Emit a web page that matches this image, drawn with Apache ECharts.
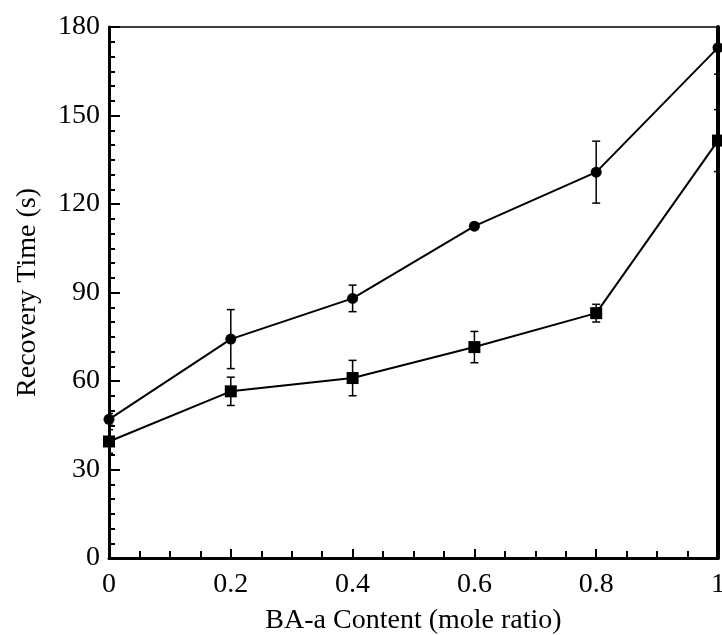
<!DOCTYPE html>
<html>
<head>
<meta charset="utf-8">
<script src="https://cdn.jsdelivr.net/npm/echarts@6/dist/echarts.min.js"></script>
<style>
  html, body { margin: 0; padding: 0; background: #fff; }
  #main { width: 722px; height: 635px; }
</style>
</head>
<body>
<div id="main"></div>
<script>
// BA-a content (mole ratio)
const xValues = [0, 0.2, 0.4, 0.6, 0.8, 1.0]
// circles (upper curve)
const circleY = [47, 74.2, 88, 112.5, 130.8, 173]
const circleErr = [2, 10, 4.5, 1, 10.5, 9]
// squares (lower curve)
const squareY = [39.5, 56.5, 61, 71.5, 83, 141.5]
const squareErr = [4, 4.8, 6, 5.3, 3, 10.5]

const font = 'Liberation Serif'

const pairs = (ys) => xValues.map((x, i) => [x, ys[i]])
const errData = (ys, errs) => xValues.map((x, i) => [x, ys[i] - errs[i], ys[i] + errs[i]])

const renderErr = (params, api) => {
  const x = api.value(0)
  const lo = api.coord([x, api.value(1)])
  const hi = api.coord([x, api.value(2)])
  const half = 4
  const style = { stroke: '#000', lineWidth: 1.5 }
  return {
    type: 'group',
    children: [
      { type: 'line', shape: { x1: lo[0], y1: lo[1], x2: hi[0], y2: hi[1] }, style },
      { type: 'line', shape: { x1: lo[0] - half, y1: lo[1], x2: lo[0] + half, y2: lo[1] }, style },
      { type: 'line', shape: { x1: hi[0] - half, y1: hi[1], x2: hi[0] + half, y2: hi[1] }, style }
    ]
  }
}

const chart = echarts.init(document.getElementById('main'))

chart.setOption({
  animation: false,
  backgroundColor: '#fff',
  grid: { left: 109, right: 4, top: 27, bottom: 77, containLabel: false, outerBoundsMode: 'none' },
  xAxis: [
    {
      type: 'value',
      min: 0,
      max: 1,
      interval: 0.2,
      name: 'BA-a Content (mole ratio)',
      nameLocation: 'middle',
      nameGap: 49,
      nameTextStyle: { fontFamily: font, fontSize: 28, color: '#000' },
      axisLine: { onZero: false, lineStyle: { color: '#000', width: 3 } },
      axisTick: { inside: true, length: 9, lineStyle: { color: '#000', width: 2 } },
      minorTick: { show: true, splitNumber: 4, length: 7, lineStyle: { color: '#000', width: 2 } },
      axisLabel: { fontFamily: font, fontSize: 28, color: '#000', margin: 13 },
      splitLine: { show: false }
    },
    {
      type: 'value',
      position: 'top',
      min: 0,
      max: 1,
      axisLine: { onZero: false, lineStyle: { color: '#000', width: 1.5 } },
      axisTick: { show: false },
      axisLabel: { show: false },
      splitLine: { show: false }
    }
  ],
  yAxis: [
    {
      type: 'value',
      min: 0,
      max: 180,
      interval: 30,
      name: 'Recovery Time (s)',
      nameLocation: 'middle',
      nameGap: 67,
      nameTextStyle: { fontFamily: font, fontSize: 28, color: '#000' },
      axisLine: { show: true, onZero: false, lineStyle: { color: '#000', width: 3 } },
      axisTick: { inside: true, length: 11, lineStyle: { color: '#000', width: 2 } },
      minorTick: { show: true, splitNumber: 6, length: 6, lineStyle: { color: '#000', width: 2 } },
      axisLabel: { fontFamily: font, fontSize: 28, color: '#000', margin: 9 },
      splitLine: { show: false }
    },
    {
      type: 'value',
      position: 'right',
      min: 0,
      max: 180,
      axisLine: { show: true, onZero: false, lineStyle: { color: '#000', width: 4 } },
      axisTick: { show: false },
      axisLabel: { show: false },
      splitLine: { show: false }
    }
  ],
  series: [
    {
      type: 'custom',
      renderItem: renderErr,
      data: errData(circleY, circleErr),
      clip: true,
      z: 3
    },
    {
      type: 'custom',
      renderItem: renderErr,
      data: errData(squareY, squareErr),
      clip: true,
      z: 3
    },
    {
      name: 'circle',
      type: 'line',
      data: pairs(circleY),
      symbol: 'circle',
      symbolSize: 11,
      itemStyle: { color: '#000' },
      lineStyle: { color: '#000', width: 2 },
      z: 4
    },
    {
      name: 'square',
      type: 'line',
      data: pairs(squareY),
      symbol: 'rect',
      symbolSize: 12,
      itemStyle: { color: '#000' },
      lineStyle: { color: '#000', width: 2 },
      z: 4
    }
  ]
})
</script>
</body>
</html>
